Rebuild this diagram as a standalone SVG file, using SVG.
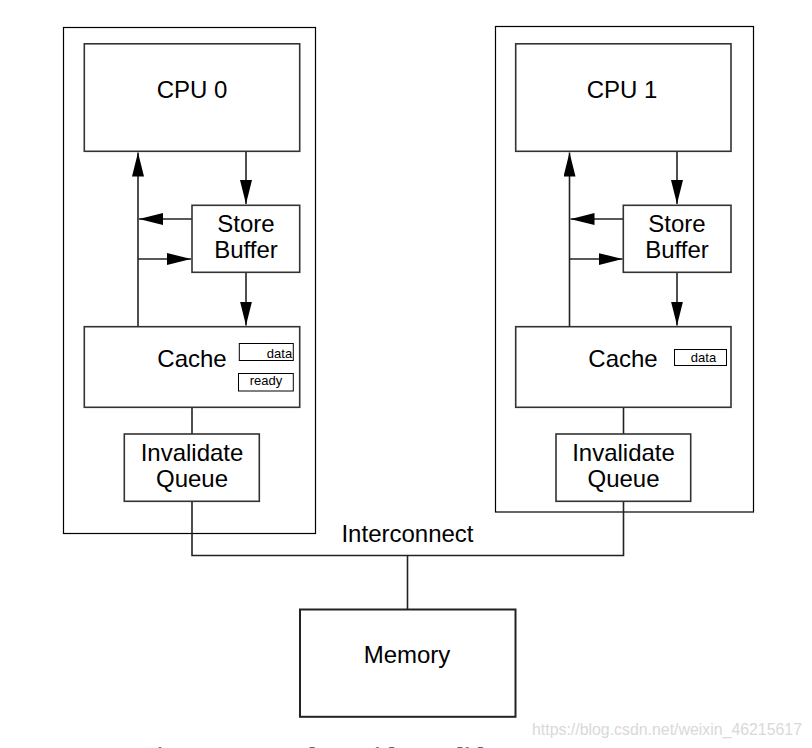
<svg xmlns="http://www.w3.org/2000/svg" width="812" height="748" viewBox="0 0 812 748">
<style>
.outer{fill:none;stroke:#000;stroke-width:1.2}
.box{fill:#fff;stroke:#333;stroke-width:1.6}
.mem{fill:#fff;stroke:#222;stroke-width:2}
.small{fill:#fff;stroke:#000;stroke-width:1}
.lbl{font-family:"Liberation Sans",Arial,sans-serif;font-size:24px;fill:#000;text-anchor:middle}
.tiny{font-family:"Liberation Sans",Arial,sans-serif;font-size:13px;fill:#000;text-anchor:middle}
.wire{fill:none;stroke:#222;stroke-width:1.6}
.arr{fill:none;stroke:#222;stroke-width:1.6;marker-end:url(#ah)}
</style>
<defs>
<marker id="ah" markerUnits="userSpaceOnUse" markerWidth="24" markerHeight="12" refX="24" refY="6" orient="auto" viewBox="0 0 24 12">
<path d="M0,0 L24,6 L0,12 z" fill="#000"/>
</marker>
</defs>
<rect width="812" height="748" fill="#fff"/>

<g id="cpu0-group">
<rect class="outer" x="63.5" y="27.5" width="252" height="506"/>
</g>
<g id="cpu1-group">
<rect class="outer" x="495.5" y="26.5" width="258" height="485.5"/>
</g>

<g id="connectors">
<line class="arr" x1="138" y1="326.5" x2="138" y2="152.5"/>
<line class="arr" x1="246" y1="151.5" x2="246" y2="204"/>
<line class="arr" x1="192" y1="219" x2="139" y2="219"/>
<line class="arr" x1="138" y1="259" x2="191" y2="259"/>
<line class="arr" x1="246" y1="272.5" x2="246" y2="325.5"/>
<line class="wire" x1="192" y1="407.5" x2="192" y2="434"/>

<line class="arr" x1="569.5" y1="326.5" x2="569.5" y2="152.5"/>
<line class="arr" x1="677" y1="151.5" x2="677" y2="204"/>
<line class="arr" x1="623.5" y1="219" x2="570.5" y2="219"/>
<line class="arr" x1="569.5" y1="259" x2="622.5" y2="259"/>
<line class="arr" x1="677" y1="272.5" x2="677" y2="325.5"/>
<line class="wire" x1="623.5" y1="407.5" x2="623.5" y2="434"/>

<polyline class="wire" points="192,501.5 192,555.5 623.5,555.5 623.5,501.5"/>
<line class="wire" x1="407.5" y1="555.5" x2="407.5" y2="609.5"/>
</g>

<g id="cpu0">
<rect class="box" x="84.3" y="43.8" width="215.4" height="107.5"/>
<text class="lbl" x="192" y="97.7">CPU 0</text>
</g>
<g id="storebuffer0">
<rect class="box" x="192" y="205.3" width="107.7" height="67"/>
<text class="lbl" x="246" y="231.7">Store</text>
<text class="lbl" x="246" y="258.3">Buffer</text>
</g>
<g id="cache0">
<rect class="box" x="84.3" y="326.7" width="215.4" height="80.6"/>
<text class="lbl" x="192" y="366.7">Cache</text>
<rect class="small" x="239.3" y="343.5" width="54" height="17"/>
<text class="tiny" x="279.5" y="358.3">data</text>
<rect class="small" x="238.5" y="373.5" width="54.8" height="17.5"/>
<text class="tiny" x="266" y="385">ready</text>
</g>
<g id="iq0">
<rect class="box" x="124.3" y="434" width="135" height="67.3"/>
<text class="lbl" x="192" y="460.7">Invalidate</text>
<text class="lbl" x="192" y="487.3">Queue</text>
</g>

<g id="cpu1">
<rect class="box" x="515.7" y="43.8" width="215.3" height="107.5"/>
<text class="lbl" x="622" y="97.7">CPU 1</text>
</g>
<g id="storebuffer1">
<rect class="box" x="623.3" y="205.3" width="107.7" height="67"/>
<text class="lbl" x="677" y="231.7">Store</text>
<text class="lbl" x="677" y="258.3">Buffer</text>
</g>
<g id="cache1">
<rect class="box" x="515.7" y="326.7" width="215.3" height="80.6"/>
<text class="lbl" x="623" y="366.7">Cache</text>
<rect class="small" x="674.5" y="349.5" width="52" height="16"/>
<text class="tiny" x="703.5" y="361.7">data</text>
</g>
<g id="iq1">
<rect class="box" x="556" y="434" width="134.7" height="67.3"/>
<text class="lbl" x="623.5" y="460.7">Invalidate</text>
<text class="lbl" x="623.5" y="487.3">Queue</text>
</g>

<g id="interconnect">
<text class="lbl" x="407.5" y="541.7">Interconnect</text>
</g>

<g id="memory">
<rect class="mem" x="300" y="609.5" width="215.5" height="107.3"/>
<text class="lbl" x="407" y="663.3">Memory</text>
</g>

<text x="532" y="735" font-family="'Liberation Sans',Arial,sans-serif" font-size="16.5" fill="#d9d9d9" textLength="270" lengthAdjust="spacingAndGlyphs">https://blog.csdn.net/weixin_46215617</text>
<text x="141" y="765" font-family="'Liberation Serif','Times New Roman',serif" font-size="26" font-weight="bold" fill="#666" textLength="460" lengthAdjust="spacing">Figure C.7: Caches With Invalidate Queues</text>
</svg>
